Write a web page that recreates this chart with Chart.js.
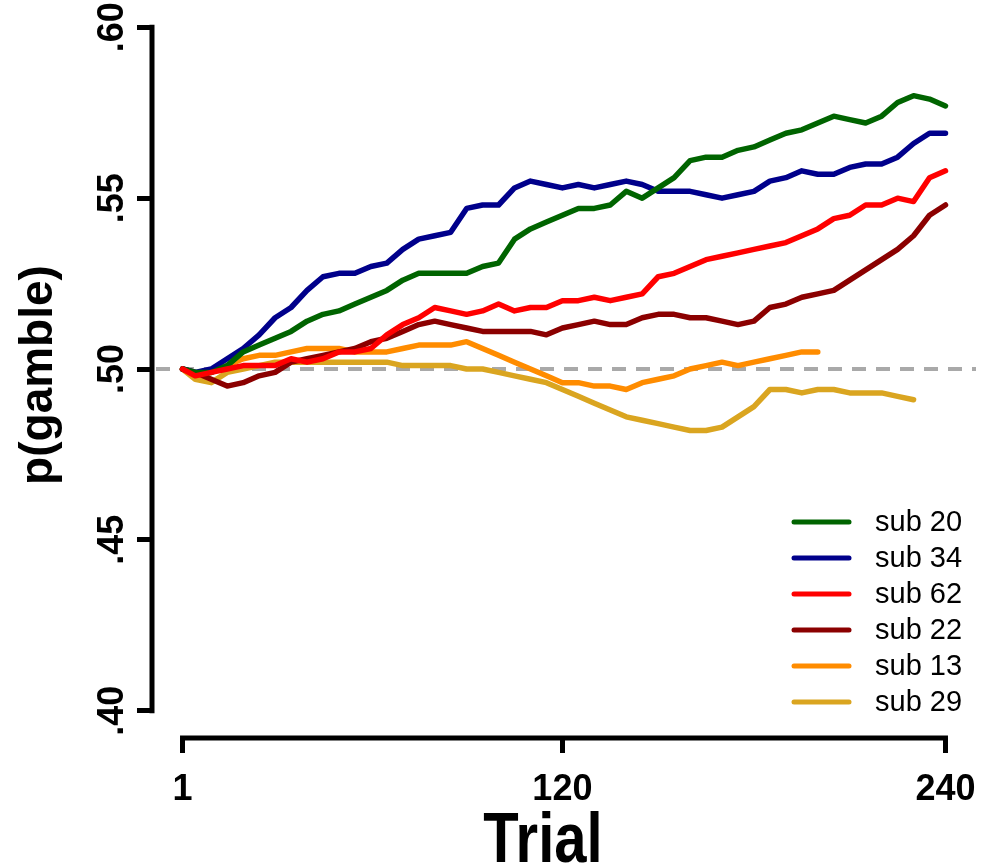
<!DOCTYPE html>
<html>
<head>
<meta charset="utf-8">
<script src="https://cdn.jsdelivr.net/npm/chart.js@4.4.1/dist/chart.umd.min.js"></script>
<style>
  html, body { margin: 0; padding: 0; background: #fff; }
  #wrap { width: 982px; height: 867px; }
</style>
</head>
<body>
<div id="wrap"><canvas id="c" width="982" height="867"></canvas></div>
<script>
// ---- data ----
const trials = [1,5,10,15,20,25,30,35,40,45,50,55,60,65,70,75,80,85,90,95,100,105,110,115,120,125,130,135,140,145,150,155,160,165,170,175,180,185,190,195,200,205,210,215,220,225,230,235,240];
const sub20 = [.500,.499,.499,.501,.505,.507,.509,.511,.514,.516,.517,.519,.521,.523,.526,.528,.528,.528,.528,.530,.531,.538,.541,.543,.545,.547,.547,.548,.552,.550,.553,.556,.561,.562,.562,.564,.565,.567,.569,.570,.572,.574,.573,.572,.574,.578,.580,.579,.577];
const sub34 = [.500,.499,.500,.503,.506,.510,.515,.518,.523,.527,.528,.528,.530,.531,.535,.538,.539,.540,.547,.548,.548,.553,.555,.554,.553,.554,.553,.554,.555,.554,.552,.552,.552,.551,.550,.551,.552,.555,.556,.558,.557,.557,.559,.560,.560,.562,.566,.569,.569];
const sub62 = [.500,.498,.499,.500,.501,.501,.501,.503,.502,.503,.505,.505,.506,.510,.513,.515,.518,.517,.516,.517,.519,.517,.518,.518,.520,.520,.521,.520,.521,.522,.527,.528,.530,.532,.533,.534,.535,.536,.537,.539,.541,.544,.545,.548,.548,.550,.549,.556,.558];
const sub22 = [.500,.499,.497,.495,.496,.498,.499,.502,.503,.504,.505,.506,.508,.509,.511,.513,.514,.513,.512,.511,.511,.511,.511,.510,.512,.513,.514,.513,.513,.515,.516,.516,.515,.515,.514,.513,.514,.518,.519,.521,.522,.523,.526,.529,.532,.535,.539,.545,.548];
const sub13 = [.500,.498,.499,.501,.503,.504,.504,.505,.506,.506,.506,.505,.505,.505,.506,.507,.507,.507,.508,.506,.504,.502,.500,.498,.496,.496,.495,.495,.494,.496,.497,.498,.500,.501,.502,.501,.502,.503,.504,.505,.505];
const sub29 = [.500,.497,.496,.499,.500,.501,.502,.502,.502,.502,.502,.502,.502,.502,.501,.501,.501,.501,.500,.500,.499,.498,.497,.496,.494,.492,.490,.488,.486,.485,.484,.483,.482,.482,.483,.486,.489,.494,.494,.493,.494,.494,.493,.493,.493,.492,.491];

const seriesNames  = ['sub 20','sub 34','sub 62','sub 22','sub 13','sub 29'];
const seriesValues = [sub20, sub34, sub62, sub22, sub13, sub29];
const seriesColors = ['#006400','#00008B','#FF0000','#8B0000','#FF8C00','#DAA520'];
const drawOrder    = [2, 3, 1, 4, 5, 6]; // lower = drawn on top

const xTickValues = [1, 120, 240];
const xTickLabels = ['1', '120', '240'];
const yTickValues = [0.40, 0.45, 0.50, 0.55, 0.60];
const yTickLabels = ['.40', '.45', '.50', '.55', '.60'];
const refLine = 0.50;
const xTitle = 'Trial';
const yTitle = 'p(gamble)';

const FONT = "'Liberation Sans', Arial, Helvetica, sans-serif";

const datasets = seriesNames.map((name, k) => ({
  label: name,
  data: seriesValues[k].map((v, i) => ({ x: trials[i], y: v })),
  borderColor: seriesColors[k],
  backgroundColor: seriesColors[k],
  borderWidth: 5.5,
  pointRadius: 0,
  tension: 0,
  fill: false,
  order: drawOrder[k],
  borderJoinStyle: 'round',
  borderCapStyle: 'round'
}));

const decorPlugin = {
  id: 'decor',
  beforeDatasetsDraw(chart) {
    const ctx = chart.ctx, a = chart.chartArea, ys = chart.scales.y;
    const yy = ys.getPixelForValue(refLine);
    ctx.save();
    ctx.strokeStyle = '#A9A9A9';
    ctx.lineWidth = 4;
    ctx.setLineDash([14, 10]);
    ctx.beginPath();
    ctx.moveTo(a.left + 4, yy);
    ctx.lineTo(a.right, yy);
    ctx.stroke();
    ctx.restore();
  },
  afterDraw(chart) {
    const ctx = chart.ctx, a = chart.chartArea;
    const xs = chart.scales.x, ys = chart.scales.y;
    ctx.save();
    // axis lines (span first to last tick, R style)
    ctx.strokeStyle = '#000';
    ctx.lineWidth = 5;
    ctx.lineCap = 'butt';
    ctx.beginPath();
    ctx.moveTo(xs.getPixelForValue(xTickValues[0]) - 2.5, a.bottom);
    ctx.lineTo(xs.getPixelForValue(xTickValues[xTickValues.length - 1]) + 2.5, a.bottom);
    ctx.stroke();
    ctx.beginPath();
    ctx.moveTo(a.left, ys.getPixelForValue(yTickValues[0]) + 2.5);
    ctx.lineTo(a.left, ys.getPixelForValue(yTickValues[yTickValues.length - 1]) - 2.5);
    ctx.stroke();

    ctx.fillStyle = '#000';
    // x tick labels
    ctx.font = 'bold 36px ' + FONT;
    ctx.textAlign = 'center';
    ctx.textBaseline = 'alphabetic';
    xTickValues.forEach((v, i) => {
      ctx.fillText(xTickLabels[i], xs.getPixelForValue(v), 800);
    });
    // y tick labels (rotated)
    ctx.font = 'bold 36px ' + FONT;
    yTickValues.forEach((v, i) => {
      ctx.save();
      ctx.translate(123, ys.getPixelForValue(v));
      ctx.rotate(-Math.PI / 2);
      ctx.textAlign = 'center';
      ctx.fillText(yTickLabels[i], 0, 0);
      ctx.restore();
    });
    // axis titles
    ctx.save();
    ctx.font = 'bold 58px ' + FONT;
    ctx.textAlign = 'center';
    ctx.translate(543, 862);
    ctx.scale(1, 1.2);
    ctx.fillText(xTitle, 0, 0);
    ctx.restore();
    ctx.save();
    ctx.font = 'bold 46px ' + FONT;
    ctx.translate(52, 375);
    ctx.rotate(-Math.PI / 2);
    ctx.textAlign = 'center';
    ctx.fillText(yTitle, 0, 0);
    ctx.restore();

    // legend
    ctx.font = '29px ' + FONT;
    ctx.textAlign = 'left';
    ctx.textBaseline = 'middle';
    seriesNames.forEach((name, k) => {
      const yr = 522 + 36 * k;
      ctx.strokeStyle = seriesColors[k];
      ctx.lineWidth = 5;
      ctx.lineCap = 'round';
      ctx.beginPath();
      ctx.moveTo(794, yr);
      ctx.lineTo(849, yr);
      ctx.stroke();
      ctx.fillStyle = '#000';
      ctx.fillText(name, 875, yr + 1);
    });
    ctx.restore();
  }
};

new Chart(document.getElementById('c'), {
  type: 'line',
  data: { datasets },
  options: {
    responsive: false,
    animation: false,
    devicePixelRatio: 1,
    layout: { padding: { left: 0, right: 6, top: 0, bottom: 0 } },
    plugins: { legend: { display: false }, tooltip: { enabled: false } },
    scales: {
      x: {
        type: 'linear',
        min: -8.56,
        max: 249.56,
        afterBuildTicks: s => { s.ticks = xTickValues.map(v => ({ value: v })); },
        afterFit: s => { s.height = 129; },
        ticks: { display: false },
        border: { display: false },
        grid: { drawOnChartArea: false, drawTicks: true, tickLength: 15, lineWidth: 5, color: '#000' }
      },
      y: {
        type: 'linear',
        min: 0.392,
        max: 0.608,
        afterBuildTicks: s => { s.ticks = yTickValues.map(v => ({ value: v })); },
        afterFit: s => { s.width = 152; },
        ticks: { display: false },
        border: { display: false },
        grid: { drawOnChartArea: false, drawTicks: true, tickLength: 15, lineWidth: 5, color: '#000' }
      }
    }
  },
  plugins: [decorPlugin]
});
</script>
</body>
</html>
